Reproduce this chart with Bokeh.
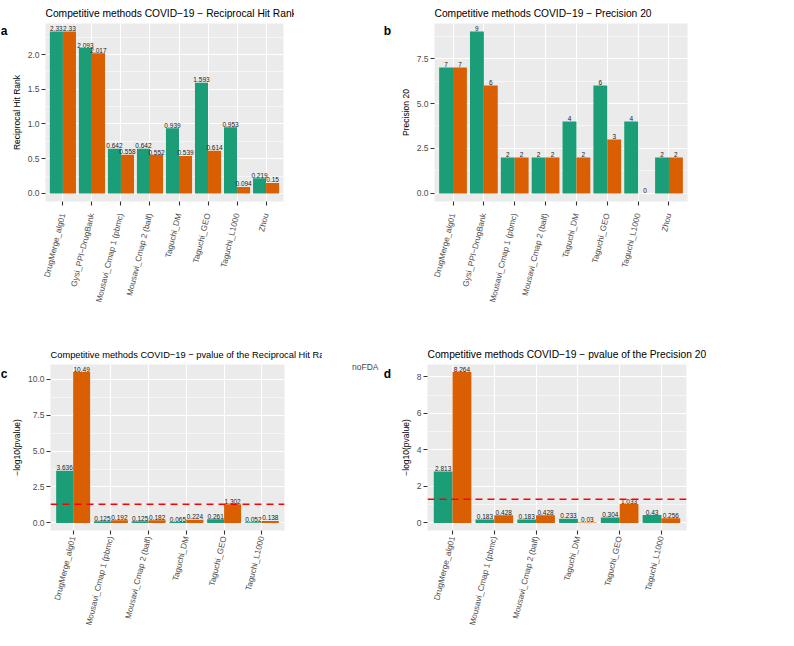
import math
from bokeh.plotting import figure
from bokeh.models import (FactorRange, Range1d, FixedTicker, NumeralTickFormatter,
                          Label, Legend, LegendItem, Span, ColumnDataSource)
from bokeh.core.properties import value
from bokeh.transform import dodge
from bokeh.layouts import column, row
from bokeh.embed import file_html
from bokeh.resources import INLINE

FONT = "Liberation Sans"
FDA_COLOR = "#1B9E77"
NOFDA_COLOR = "#D95F02"

# ---- data ----
methods_ab = ["DrugMerge_alg01", "Gysi_PPI\u2212DrugBank", "Mousavi_Cmap 1 (pbmc)",
              "Mousavi_Cmap 2 (balf)", "Taguchi_DM", "Taguchi_GEO", "Taguchi_L1000", "Zhou"]
rhr_fda = [2.33, 2.093, 0.642, 0.642, 0.939, 1.593, 0.953, 0.219]
rhr_nofda = [2.33, 2.017, 0.558, 0.552, 0.539, 0.614, 0.094, 0.15]
prec_fda = [7, 9, 2, 2, 4, 6, 4, 2]
prec_nofda = [7, 6, 2, 2, 2, 3, 0, 2]

methods_cd = ["DrugMerge_alg01", "Mousavi_Cmap 1 (pbmc)", "Mousavi_Cmap 2 (balf)",
              "Taguchi_DM", "Taguchi_GEO", "Taguchi_L1000"]
p_rhr_fda = [3.636, 0.125, 0.125, 0.065, 0.261, 0.052]
p_rhr_nofda = [10.49, 0.192, 0.182, 0.224, 1.302, 0.138]
p_prec_fda = [2.813, 0.183, 0.183, 0.233, 0.304, 0.43]
p_prec_nofda = [8.264, 0.428, 0.428, 0.03, 1.033, 0.256]

ticks_a = [0.0, 0.5, 1.0, 1.5, 2.0]
minor_a = [0.25, 0.75, 1.25, 1.75, 2.25]
ticks_b = [0.0, 2.5, 5.0, 7.5]
minor_b = [1.25, 3.75, 6.25, 8.75]
ticks_c = [0.0, 2.5, 5.0, 7.5, 10.0]
minor_c = [1.25, 3.75, 6.25, 8.75]
ticks_d = [0, 2, 4, 6, 8]
minor_d = [1, 3, 5, 7]

signif_level = -math.log10(0.05)

legend_labels = ["FDA", "noFDA"]


def fmt_v(v):
    return f"{v:g}"


def blank_fig(w, h):
    f = figure(width=w, height=h, x_range=Range1d(0, 1), y_range=Range1d(0, h),
               output_backend="svg", toolbar_location=None, min_border=0,
               x_axis_location=None, y_axis_location=None)
    f.outline_line_color = None
    f.background_fill_color = "white"
    f.border_fill_color = "white"
    f.xgrid.grid_line_color = None
    f.ygrid.grid_line_color = None
    f.title.text_font_size = "1px"
    f.title.standoff = 0
    return f


def letter_strip(letter, h, top_px):
    s = blank_fig(8, h)
    s.add_layout(Label(x=0.04, y=h - top_px, text=letter, text_font=FONT,
                       text_font_size="12px", text_font_style="bold",
                       text_baseline="top", text_align="left", text_color="black"))
    return s


def legend_fig(w, h, loc):
    f = blank_fig(w, h)
    g1 = f.vbar(x=[], top=[], width=0.45, fill_color=FDA_COLOR, line_color=None)
    g2 = f.vbar(x=[], top=[], width=0.45, fill_color=NOFDA_COLOR, line_color=None)
    legend = Legend(items=[LegendItem(label=legend_labels[0], renderers=[g1]),
                           LegendItem(label=legend_labels[1], renderers=[g2])],
                    location=loc, orientation="vertical",
                    glyph_width=22, glyph_height=22, spacing=3, padding=0,
                    margin=0, border_line_color=None,
                    background_fill_alpha=0, label_text_font=FONT,
                    label_text_font_size="8.5px", label_standoff=5)
    f.add_layout(legend)
    return f


def panel(title, title_size, cats, fda, nofda, ylabel, ticks, minor, tick_fmt,
          w, h, left, right, top, bottom, x_standoff, hline=None):
    ymax = max(max(fda), max(nofda))
    xr = FactorRange(factors=cats, range_padding=0.1, range_padding_units="absolute")
    yr = Range1d(-0.05 * ymax, 1.05 * ymax)
    p = figure(width=w, height=h, x_range=xr, y_range=yr, output_backend="svg",
               toolbar_location=None, min_border_left=left, min_border_right=right,
               min_border_top=top, min_border_bottom=bottom, title=title)
    p.background_fill_color = "#EBEBEB"
    p.border_fill_color = "white"
    p.outline_line_color = None

    src = ColumnDataSource(dict(cat=cats, fda=fda, nofda=nofda,
                                fda_lbl=[fmt_v(v) for v in fda],
                                nofda_lbl=[fmt_v(v) for v in nofda]))
    p.vbar(x=dodge("cat", -0.225, range=xr), top="fda", width=0.45, source=src,
           fill_color=FDA_COLOR, line_color=None)
    p.vbar(x=dodge("cat", 0.225, range=xr), top="nofda", width=0.45, source=src,
           fill_color=NOFDA_COLOR, line_color=None)
    for off, col in ((-0.225, "fda"), (0.225, "nofda")):
        p.text(x=dodge("cat", off, range=xr), y=col, text=col + "_lbl", source=src,
               text_font=value(FONT), text_font_size="6.5px", text_align="center",
               text_baseline="bottom", y_offset=-0.5, text_color="#1a1a1a")

    if hline is not None:
        p.add_layout(Span(location=hline, dimension="width", line_color="#FF0000",
                          line_width=1.6, line_dash="7 5"))

    p.xgrid.grid_line_color = "white"
    p.xgrid.grid_line_width = 1.1
    p.ygrid.grid_line_color = "white"
    p.ygrid.grid_line_width = 1.1
    p.ygrid.minor_grid_line_color = "white"
    p.ygrid.minor_grid_line_width = 0.55
    p.yaxis.ticker = FixedTicker(ticks=ticks, minor_ticks=minor)
    p.yaxis.formatter = NumeralTickFormatter(format=tick_fmt)

    for ax in (p.xaxis[0], p.yaxis[0]):
        ax.axis_line_color = None
        ax.major_tick_out = 4
        ax.major_tick_in = 0
        ax.major_tick_line_color = "#333333"
        ax.major_tick_line_width = 1.1
        ax.minor_tick_line_color = None
        ax.major_label_text_font = FONT
        ax.major_label_text_font_size = "8.5px"
        ax.major_label_text_color = "#4D4D4D"
        ax.major_label_standoff = 2
    p.xaxis.major_label_text_font_size = "8.2px"
    p.xaxis.major_label_standoff = x_standoff
    p.xaxis.major_label_orientation = math.radians(76)
    p.yaxis.axis_label = ylabel
    p.yaxis.axis_label_text_font = FONT
    p.yaxis.axis_label_text_font_size = "8.5px"
    p.yaxis.axis_label_text_font_style = "normal"
    p.yaxis.axis_label_text_color = "black"
    p.yaxis.axis_label_standoff = 3

    p.title.text_font = FONT
    p.title.text_font_size = title_size
    p.title.text_font_style = "normal"
    p.title.text_color = "black"
    p.title.align = "left"
    return p


la = letter_strip("a", 322, 1)
lb = letter_strip("b", 322, 1)
lc = letter_strip("c", 308, 5)
ld = letter_strip("d", 308, 5)

pa = panel("Competitive methods COVID\u221219 \u2212 Reciprocal Hit Rank", "10.25px", methods_ab,
           rhr_fda, rhr_nofda, "Reciprocal Hit Rank", ticks_a, minor_a, "0.0",
           286, 322, 30, 11, 16, 121, 8)
pb = panel("Competitive methods COVID\u221219 \u2212 Precision 20", "10.25px", methods_ab,
           prec_fda, prec_nofda, "Precision 20", ticks_b, minor_b, "0.0",
           300, 322, 43, 4, 16, 121, 8)
pc = panel("Competitive methods COVID\u221219 \u2212 pvalue of the Reciprocal Hit Rank", "9.3px",
           methods_cd, p_rhr_fda, p_rhr_nofda, "\u2212log10(pvalue)", ticks_c, minor_c, "0.0",
           314, 308, 30, 38, 42, 88, 2, hline=signif_level)
pd_ = panel("Competitive methods COVID\u221219 \u2212 pvalue of the Precision 20", "10.25px",
            methods_cd, p_prec_fda, p_prec_nofda, "\u2212log10(pvalue)", ticks_d, minor_d, "0",
            317, 308, 36, 22, 42, 88, 2, hline=signif_level)

ga = legend_fig(89, 322, (19, 189))
gb = legend_fig(87, 322, (32, 189))
gc = legend_fig(61, 308, (3, 152))
gd = legend_fig(70, 308, (8, 158))

lay = column(row(la, pa, ga, lb, pb, gb), row(lc, pc, gc, ld, pd_, gd))
open("out.html", "w").write(file_html(lay, INLINE))
